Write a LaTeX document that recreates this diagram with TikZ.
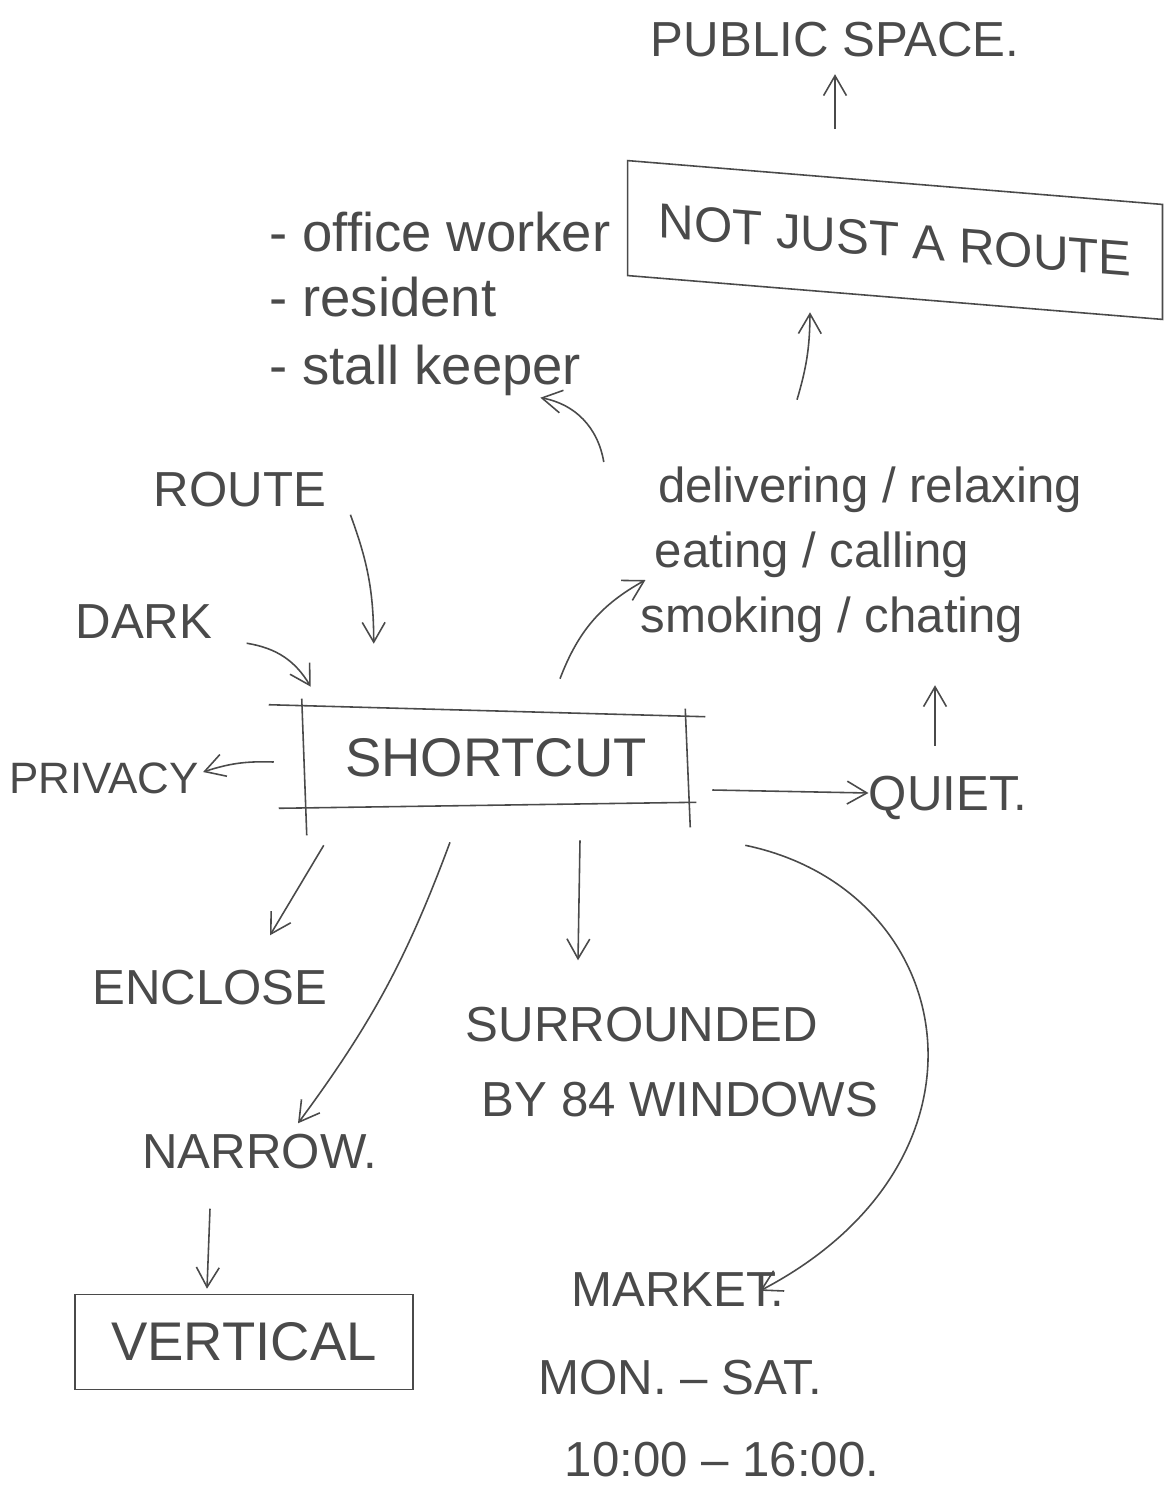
\documentclass[tikz,border=0pt]{standalone}
\usepackage{fontspec}
\setmainfont{Liberation Sans}
\usetikzlibrary{arrows.meta,calc}
\definecolor{pencil}{HTML}{4A4A4A}

\begin{document}
\begin{tikzpicture}[x=0.02cm, y=-0.02cm, line width=0.9pt, color=pencil]
	\tikzstyle{word}  = [inner sep=2pt, font=\fontsize{28}{32}\selectfont]
	\tikzstyle{big}   = [inner sep=2pt, font=\fontsize{31}{36}\selectfont]
	\tikzstyle{boxed} = [draw, inner sep=0pt]
	\tikzstyle{arr}   = [-{Straight Barb[angle=60:13pt]}]

	\useasboundingbox (0,0) rectangle (1176,1504);

	% boxes
	\node[word, boxed, yslant=-0.082, minimum width=10.7cm, minimum height=2.3cm] (notjust) at (895,240) {NOT JUST A ROUTE};
	\node[big, minimum width=7.66cm, minimum height=1.86cm] (short) at (496,758) {SHORTCUT};
	\node[big, boxed, minimum width=6.76cm, minimum height=1.9cm] (vert) at (244,1342) {VERTICAL};

	\draw ($(short.north west)+(-35,-6)$) -- ($(short.north east)+(17,6)$);
	\draw ($(short.south west)+(-25,3)$) -- ($(short.south east)+(8,-3)$);
	\draw ($(short.north west)+(-2,-12)$) -- ($(short.south west)+(3,30)$);
	\draw ($(short.north east)+(-3,-2)$) -- ($(short.south east)+(2,22)$);

	% words
	\node[word] (public) at (835,40) {PUBLIC SPACE.};
	\foreach \name/\y/\txt in {worker/232/office worker, resident/297/resident, keeper/370/stall keeper}
		\node[big, anchor=west] (\name) at (265,\y) {- \txt};
	\node[word] (deliv) at (870,490) {delivering / relaxing};
	\node[word] (eat) at (812,555) {eating / calling};
	\node[word] (smoke) at (832,620) {smoking / chating};

	\foreach \name/\x/\y/\txt in {route/240/490/ROUTE, dark/144/622/DARK,
			quiet/948/798/QUIET., enclose/210/988/ENCLOSE, narrow/260/1152/NARROW.,
			surr/642/1025/SURROUNDED, windows/680/1100/BY 84 WINDOWS,
			market/678/1290/MARKET., days/680/1378/MON. -- SAT., hours/722/1460/10:00 -- 16:00.}
		\node[word] (\name) at (\x, \y) {\txt};
	\node[inner sep=2pt, font=\fontsize{25}{30}\selectfont] (privacy) at (104,778) {PRIVACY};

	% connectors
	\draw[arr, shorten <=1.05cm, shorten >=0.25cm] (notjust.north -| public.south) -- (public.south);
	\draw[arr] ($(deliv.north)+(-73,-63)$) to[bend right=8] ($(notjust.south)+(-85,14)$);
	\draw[arr] ($(deliv.west)+(-50,-28)$) to[bend right=35] ($(keeper.south east)+(-45,-2)$);
	\draw[arr] ($(route.south east)+(20,3)$) to[bend left=10] ($(short.north west)+(70,-67)$);
	\draw[arr] ($(dark.south east)+(30,0)$) to[bend left=25] ($(short.north west)+(7,-24)$);
	\draw[arr] ($(short.west)+(-30,4)$) to[bend right=10] ($(privacy.east)+(0,-6)$);
	\draw[arr] ($(short.east)+(24,32)$) -- ($(quiet.west)+(4,-5)$);
	\draw[arr] ($(quiet.north)+(-13,-26)$) -- ($(smoke.south)+(103,38)$);
	\draw[arr] ($(short.north)+(64,-32)$) to[bend left=20] ($(eat.west)+(-5,25)$);
	\draw[arr] ($(short.south west)+(20,40)$) -- ($(enclose.north)+(60,-31)$);
	\draw[arr] ($(short.south)+(-46,37)$) to[bend left=8] ($(narrow.north)+(38,-7)$);
	\draw[arr] ($(short.south)+(84,35)$) -- ($(surr.north)+(-64,-43)$);
	\draw[arr] ($(short.south east)+(57,40)$) .. controls (960,890) and (1010,1160) .. ($(market.north)+(82,22)$);
	\draw[arr] ($(narrow.south)+(-50,35)$) -- ($(vert.north)+(-37,-5)$);

\end{tikzpicture}
\end{document}
